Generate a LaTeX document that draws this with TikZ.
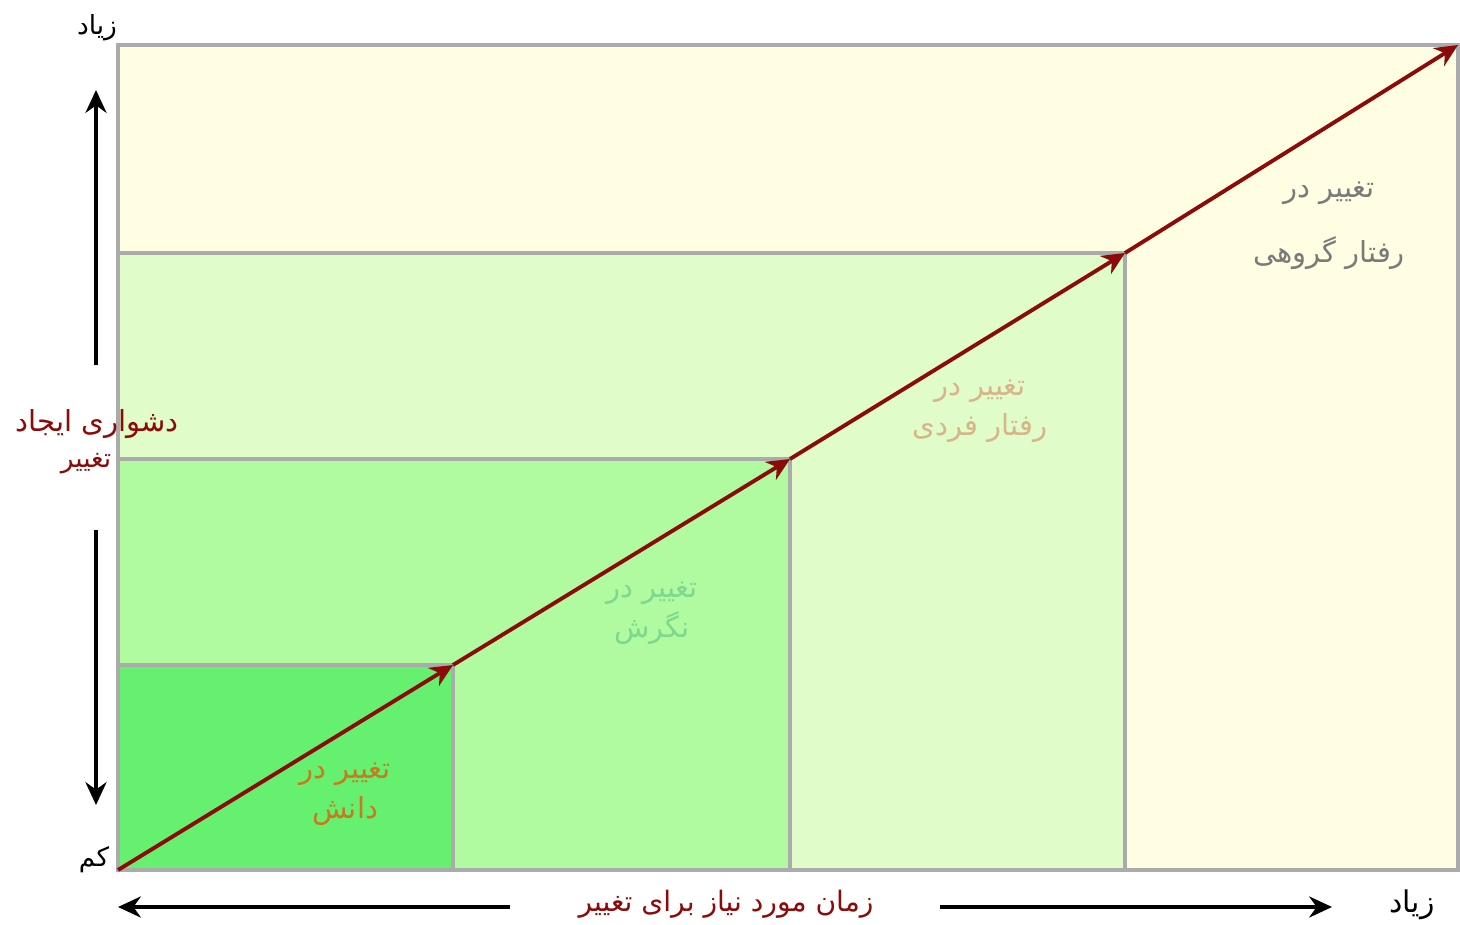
\documentclass[tikz,border=0pt]{standalone}
\usepackage{fontspec}
\newfontfamily\arabicfont[Script=Arabic]{DejaVu Sans}
\TeXXeTstate=1
\usetikzlibrary{arrows.meta}
\newcommand{\fa}[1]{{\arabicfont\beginR #1\endR}}
\definecolor{bgY}{HTML}{FFFDE2}
\definecolor{gA}{HTML}{E0FCC8}
\definecolor{gB}{HTML}{B0FAA0}
\definecolor{gC}{HTML}{66F070}
\definecolor{bord}{HTML}{ABABAB}
\definecolor{dred}{HTML}{8B0A0A}
\definecolor{tA}{HTML}{C87A1E}
\definecolor{tB}{HTML}{7ED890}
\definecolor{tC}{HTML}{D8B48A}
\definecolor{tD}{HTML}{7A7A7A}
\tikzset{
  zone/.style={draw=bord, line width=1.9pt},
  diag/.style={draw=dred, line width=2.2pt, -{Stealth[length=13pt,width=12pt]}},
  axis/.style={draw=black, line width=2pt, -{Stealth[length=13pt,width=12pt]}},
  lbl/.style={font=\fontsize{16.5}{23}\selectfont, align=center, inner sep=1pt},
  small/.style={font=\fontsize{15}{17}\selectfont, inner sep=1pt}
}
\begin{document}
\begin{tikzpicture}[x=0.02cm,y=-0.02cm]
\useasboundingbox (0,0) rectangle (1460,925);
\fill[white] (0,0) rectangle (1460,925);
% corner coordinates
\coordinate (o) at (118,870);
\coordinate (p1) at (453,665);
\coordinate (p2) at (790,459);
\coordinate (p3) at (1125,253);
\coordinate (p4) at (1458,45);
% zones
\draw[zone, fill=bgY] (o) rectangle (p4);
\draw[zone, fill=gA] (o) rectangle (p3);
\draw[zone, fill=gB] (o) rectangle (p2);
\draw[zone, fill=gC] (o) rectangle (p1);
% diagonal arrows
\draw[diag] (o) -- (p1);
\draw[diag] (p1) -- (p2);
\draw[diag] (p2) -- (p3);
\draw[diag] (p3) -- (p4);
% vertical axis arrows
\coordinate (va1) at (96,365);
\coordinate (va2) at (96,90);
\coordinate (vb1) at (96,530);
\coordinate (vb2) at (96,805);
\draw[axis] (va1) -- (va2);
\draw[axis] (vb1) -- (vb2);
% horizontal axis arrows
\coordinate (ha1) at (510,907);
\coordinate (ha2) at (118,907);
\coordinate (hb1) at (940,907);
\coordinate (hb2) at (1332,907);
\draw[axis] (ha1) -- (ha2);
\draw[axis] (hb1) -- (hb2);
% axis labels
\node[small] (yhigh) at (97,28) {\fa{زیاد}};
\node[small] (ylow) at (94,860) {\fa{کم}};
\node[small, font=\fontsize{17}{19}\selectfont] (xhigh) at (1412,905) {\fa{زیاد}};
\node[lbl, text=dred, font=\fontsize{16}{18}\selectfont] (xlab) at (726,904) {\fa{زمان مورد نیاز برای تغییر}};
\node[lbl, text=dred] (ylab1) at (97,424) {\fa{دشواری ایجاد}};
\node[lbl, text=dred, font=\fontsize{15}{17}\selectfont] (ylab2) at (86,464) {\fa{تغییر}};
% zone labels
\node[lbl, text=tA] (z1) at (345,794) {\fa{تغییر در}\\\fa{دانش}};
\node[lbl, text=tB] (z2) at (652,613) {\fa{تغییر در}\\\fa{نگرش}};
\node[lbl, text=tC] (z3) at (980,411) {\fa{تغییر در}\\\fa{رفتار فردی}};
\node[lbl, text=tD, font=\fontsize{16.5}{37}\selectfont] (z4) at (1329,226) {\fa{تغییر در}\\\fa{رفتار گروهی}};
\end{tikzpicture}
\end{document}
